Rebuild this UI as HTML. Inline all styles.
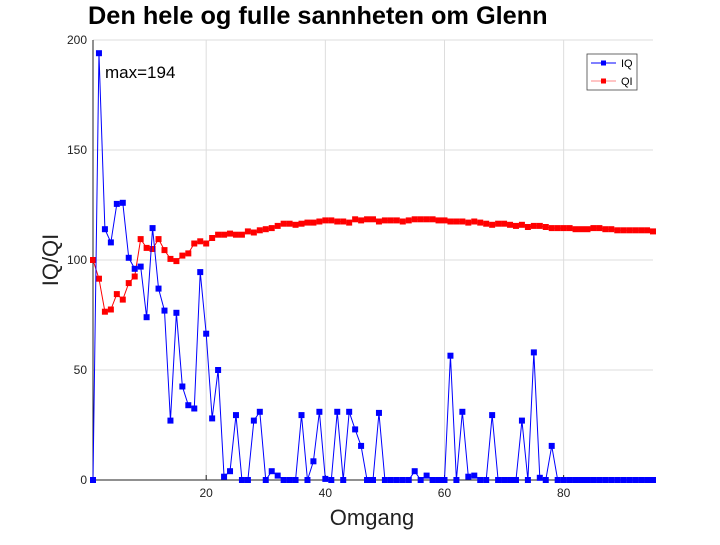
<!DOCTYPE html>
<html><head><meta charset="utf-8"><style>
body{margin:0;background:#fff;}
svg text{font-family:"Liberation Sans",sans-serif;}
</style></head><body>
<svg id="chart" width="720" height="540" xmlns="http://www.w3.org/2000/svg">
<text x="88" y="24" font-size="25.3" font-weight="bold" fill="#000">Den hele og fulle sannheten om Glenn</text>
<g id="grid"></g>
<g id="axes"></g>
<g id="series"></g>
<text x="105" y="78" font-size="17" fill="#000">max=194</text>
<text x="372" y="525" font-size="22" text-anchor="middle" fill="#222">Omgang</text>
<text transform="translate(58,260) rotate(-90)" font-size="22" text-anchor="middle" fill="#222">IQ/QI</text>
<g>
<rect x="587" y="54" width="50" height="36" fill="#fff" stroke="#444" stroke-width="0.8"/>
<g>
<line x1="591" y1="63" x2="616" y2="63" stroke="#00f"/><rect x="601" y="60.5" width="5" height="5" fill="#00f"/>
<text x="621" y="67" font-size="11">IQ</text></g>
<g>
<line x1="591" y1="81" x2="616" y2="81" stroke="#f88"/><rect x="601" y="78.5" width="5" height="5" fill="#f00"/>
<text x="621" y="85" font-size="11">QI</text></g>
</g>
</svg>
<script>
const iq = [0,194,114,108,125.5,126,101,96,97,74,114.5,87,77,27,76,42.5,34,32.5,94.5,66.5,28,50,1.5,4,29.5,0,0,27,31,0,4,2,0,0,0,29.5,0,8.5,31,0.5,0,31,0,31,23,15.5,0,0,30.5,0,0,0,0,0,4,0,2,0,0,0,56.5,0,31,1.5,2,0,0,29.5,0,0,0,0,27,0,58,1,0,15.5,0,0,0,0,0,0,0,0,0,0,0,0,0,0,0,0,0];
const qi = [100,91.5,76.5,77.5,84.5,82,89.5,92.5,109.5,105.5,105,109.5,104.5,100.5,99.5,102,103,107.5,108.5,107.5,110,111.5,111.5,112,111.5,111.5,113,112.5,113.5,114,114.5,115.5,116.5,116.5,116,116.5,117,117,117.5,118,118,117.5,117.5,117,118.5,118,118.5,118.5,117.5,118,118,118,117.5,118,118.5,118.5,118.5,118.5,118,118,117.5,117.5,117.5,117,117.5,117,116.5,116,116.5,116.5,116,115.5,116,115,115.5,115.5,115,114.5,114.5,114.5,114.5,114,114,114,114.5,114.5,114,114,113.5,113.5,113.5,113.5,113.5,113.5,113];
const xTicks = [20,40,60,80];
const yTicks = [0,50,100,150,200];
const NS="http://www.w3.org/2000/svg";
const X0=93,X1=653,Y0=480,Y1=40;
const xs=v=>X0+(v-1)*(X1-X0)/94;
const ys=v=>Y0-(v/200)*(Y0-Y1);
function mk(tag,attrs,parent){const e=document.createElementNS(NS,tag);for(const k in attrs)e.setAttribute(k,attrs[k]);parent.appendChild(e);return e;}
const grid=document.getElementById('grid'),axes=document.getElementById('axes'),ser=document.getElementById('series');
xTicks.forEach(t=>{const l=mk('line',{x1:xs(t),x2:xs(t),y1:Y1,y2:Y0,stroke:'#ddd'},grid);


mk('line',{x1:xs(t),x2:xs(t),y1:Y0,y2:Y0-5,stroke:'#222'},axes);
const tx=mk('text',{x:xs(t),y:Y0+17,'font-size':12,'text-anchor':'middle',fill:'#222'},axes);tx.textContent=t;

});
yTicks.forEach(t=>{const l=mk('line',{x1:X0,x2:X1,y1:ys(t),y2:ys(t),stroke:'#ddd'},grid);


const tx=mk('text',{x:X0-6,y:ys(t)+4,'font-size':12,'text-anchor':'end',fill:'#222'},axes);tx.textContent=t;

});
mk('line',{x1:X0,x2:X0,y1:Y1,y2:Y0,stroke:'#222'},axes);
mk('line',{x1:X0,x2:X1,y1:Y0,y2:Y0,stroke:'#222'},axes);
function draw(data,color,name){
const g=mk('g',{},ser);


mk('polyline',{points:data.map((v,i)=>xs(i+1)+','+ys(v)).join(' '),fill:'none',stroke:color,'stroke-width':1},g);
data.forEach((v,i)=>{const r=mk('rect',{x:xs(i+1)-3,y:ys(v)-3,width:6,height:6,fill:color},g);

});}
draw(qi,'#f00','qi');
draw(iq,'#00f','iq');
</script>
</body></html>
